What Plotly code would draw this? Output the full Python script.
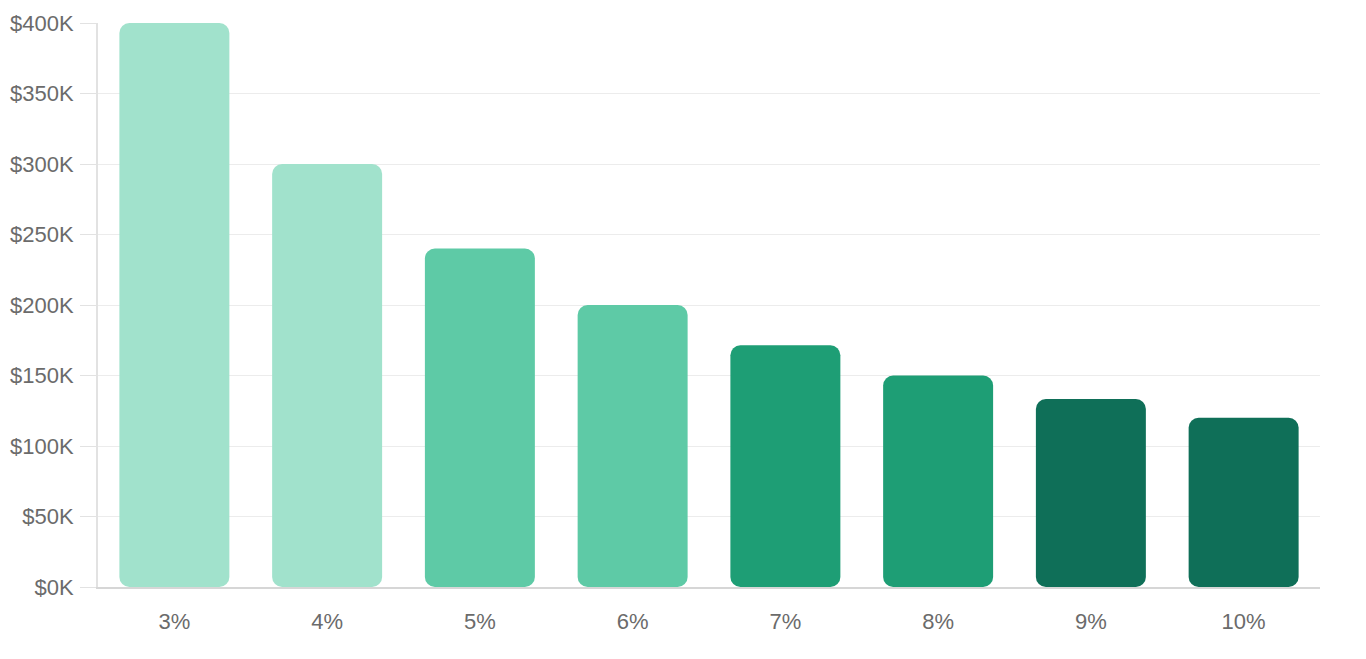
import plotly.graph_objects as go

categories = ["3%", "4%", "5%", "6%", "7%", "8%", "9%", "10%"]
values = [400000, 300000, 240000, 200000, 171429, 150000, 133333, 120000]
colors = ["#a1e2cc", "#a1e2cc", "#5ecaa6", "#5ecaa6", "#1e9e75", "#1e9e75", "#0f6f58", "#0f6f58"]
y_ticks = [0, 50000, 100000, 150000, 200000, 250000, 300000, 350000, 400000]
y_labels = ["$0K", "$50K", "$100K", "$150K", "$200K", "$250K", "$300K", "$350K", "$400K"]

fig = go.Figure()
fig.add_trace(go.Bar(
    x=categories, y=values, base=[0] * len(values),
    marker=dict(color=colors, line=dict(width=0)), width=0.72,
    hovertemplate="%{x}: %{y:$,.0f}<extra></extra>",
    showlegend=False,
))

fig.update_layout(
    barcornerradius=10,
    width=1350, height=643,
    margin=dict(l=90, r=38, t=15, b=64),
    paper_bgcolor="white", plot_bgcolor="white",
    font=dict(family="Liberation Sans, Arial, sans-serif", color="#6b6b6b"),
    xaxis=dict(
        showgrid=False, showline=True, linecolor="#d6d6d6", linewidth=2,
        ticks="", tickfont=dict(size=22, color="#6b6b6b"), ticklabelstandoff=14,
        automargin=False,
    ),
    yaxis=dict(
        range=[0, 400000], tickvals=y_ticks, ticktext=y_labels,
        showgrid=True, gridcolor="#ececec", gridwidth=1,
        showline=True, linecolor="#e2e2e2", linewidth=2,
        ticks="outside", ticklen=16, tickcolor="#e2e2e2", tickwidth=1,
        tickfont=dict(size=22, color="#6b6b6b"), ticklabelstandoff=2,
        zeroline=False, automargin=False,
    ),
)

fig.write_html("out.html")
